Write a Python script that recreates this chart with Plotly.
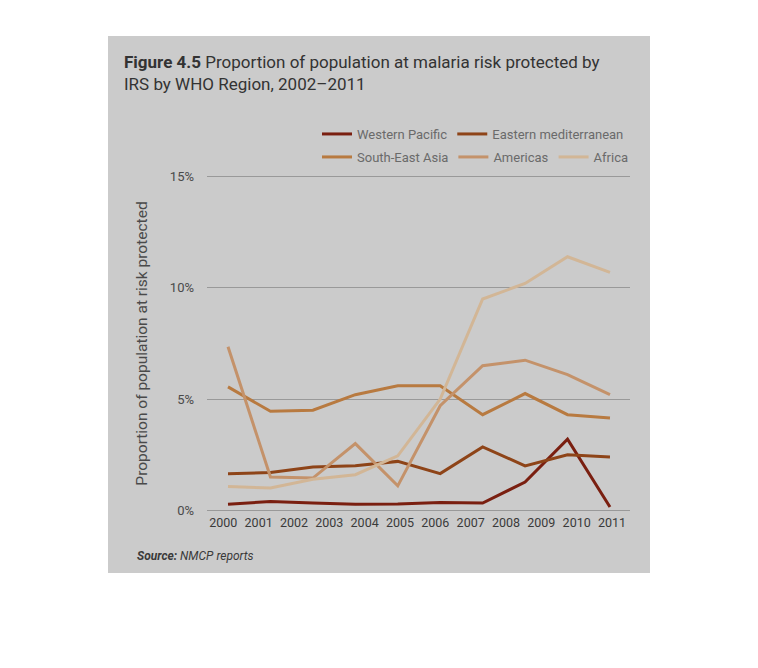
import plotly.graph_objects as go

# ---- data ----
years = [2002, 2003, 2004, 2005, 2006, 2007, 2008, 2009, 2010, 2011]
axis_years = list(range(2000, 2012))
y_ticks = [0, 5, 10, 15]
western_pacific = [0.27, 0.40, 0.33, 0.27, 0.28, 0.35, 0.33, 1.27, 3.20, 0.15]
eastern_med = [1.65, 1.70, 1.95, 2.00, 2.20, 1.65, 2.85, 2.00, 2.50, 2.40]
south_east_asia = [5.55, 4.45, 4.50, 5.20, 5.60, 5.60, 4.30, 5.25, 4.30, 4.15]
americas = [7.35, 1.50, 1.45, 3.00, 1.10, 4.70, 6.50, 6.75, 6.10, 5.20]
africa = [1.07, 1.00, 1.40, 1.60, 2.45, 5.00, 9.50, 10.20, 11.40, 10.70]

series = [
    ("Western Pacific", western_pacific, "#7a1f10", "legend"),
    ("Eastern mediterranean", eastern_med, "#8e4418", "legend"),
    ("South-East Asia", south_east_asia, "#b87a40", "legend2"),
    ("Americas", americas, "#c4926a", "legend2"),
    ("Africa", africa, "#d2b696", "legend2"),
]

FONT = "Roboto, sans-serif"

fig = go.Figure()
for name, vals, color, lg in series:
    fig.add_trace(go.Scatter(
        x=years, y=vals, name=name, mode="lines",
        line=dict(color=color, width=3), legend=lg,
        xaxis="x", yaxis="y",
    ))

# dummy trace so the label axis (xaxis2) is drawn
fig.add_trace(go.Scatter(x=[axis_years[0]], y=[None], xaxis="x2", yaxis="y",
                         showlegend=False, hoverinfo="skip"))

OFF = 8  # page body margin
PAD = 0.12  # y-range padding so edge gridlines are drawn
W, H = 758 - 2 * OFF, 668 - 2 * OFF
unit = (510 - 177) / 15.0
L, R = 207 - OFF, 630 - OFF
T = round(177 - PAD * unit) - OFF
B = round(510 + PAD * unit) - OFF
pw, ph = R - L, B - T

def px(x):
    return (x - OFF - L) / pw

def py(y):
    return (B - (y - OFF)) / ph

fig.update_layout(
    width=W, height=H,
    margin=dict(l=L, r=W - R, t=T, b=H - B, autoexpand=False),
    paper_bgcolor="white",
    plot_bgcolor="rgba(0,0,0,0)",
    font=dict(family=FONT, color="#4a4a4a"),
    showlegend=True,
    xaxis=dict(range=[2001.505, 2011.472], visible=False, fixedrange=True),
    xaxis2=dict(overlaying="x", anchor="y", side="bottom",
                range=[1999.539, 2011.509], tickvals=axis_years,
                ticktext=[str(y) for y in axis_years], showgrid=False,
                zeroline=False, showline=False, ticks="", tickangle=0,
                ticklabelstandoff=0,
                tickfont=dict(size=12.5, color="#3a3a3a", family=FONT)),
    yaxis=dict(range=[-PAD, 15 + PAD], tickvals=y_ticks,
               ticktext=[f"{v}%" for v in y_ticks],
               showgrid=True, gridcolor="#999999", gridwidth=1,
               zeroline=False, showline=False, ticks="",
               ticklabelstandoff=12,
               tickfont=dict(size=13, color="#4a4a4a", family=FONT),
               title=dict(text="Proportion of population at risk protected",
                          font=dict(size=15.5, color="#4a4a4a", family=FONT),
                          standoff=18)),
    legend=dict(orientation="h", x=px(317), y=py(134), xanchor="left",
                yanchor="middle", bgcolor="rgba(0,0,0,0)",
                font=dict(size=13, color="#6a6a6a", family=FONT),
                itemwidth=30, tracegroupgap=0),
    legend2=dict(orientation="h", x=px(317), y=py(157), xanchor="left",
                 yanchor="middle", bgcolor="rgba(0,0,0,0)",
                 font=dict(size=13, color="#6a6a6a", family=FONT),
                 itemwidth=30, tracegroupgap=0),
    shapes=[dict(type="rect", xref="paper", yref="paper", layer="below",
                 x0=px(108), x1=px(650), y0=py(573), y1=py(36),
                 fillcolor="#cbcbcb", line=dict(width=0))],
    annotations=[
        dict(xref="paper", yref="paper", x=px(122), y=py(50), xanchor="left",
             yanchor="top", align="left", showarrow=False,
             text="<b>Figure 4.5</b> Proportion of population at malaria risk protected by<br>IRS by WHO Region, 2002–2011",
             font=dict(size=17, color="#333333", family=FONT)),
        dict(xref="paper", yref="paper", x=px(135), y=py(556), xanchor="left",
             yanchor="middle", showarrow=False,
             text="<i><b>Source:</b> NMCP reports</i>",
             font=dict(size=12, color="#3a3a3a", family=FONT)),
    ],
)

fig.write_html("out.html")
